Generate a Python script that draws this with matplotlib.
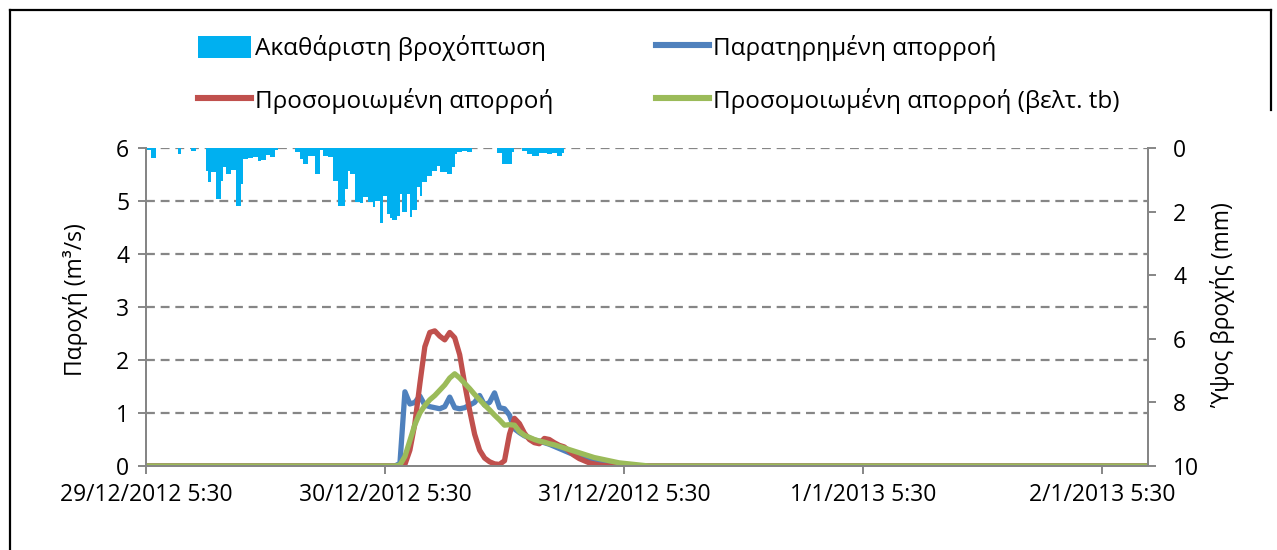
import numpy as np
import matplotlib
matplotlib.use("Agg")
import matplotlib.pyplot as plt
from matplotlib.patches import Patch
from matplotlib.lines import Line2D

plt.rcParams['font.family'] = ['Open Sans', 'DejaVu Sans']

# ---------------- data ----------------
# rainfall (mm) per 15-min step, starting 29/12/2012 5:30
rain_step_h = 0.25
rain_mm = [
    0.06, 0.06, 0.31, 0.31, 0, 0, 0, 0, 0, 0, 0, 0, 0, 0.2, 0, 0, 0, 0, 0.1, 0.1,
    0, 0, 0, 0, 0.72, 1.07, 0.75, 0.75, 1.6, 1.6, 1.04, 0.6, 0.82, 0.82, 0.69, 0.69,
    1.82, 1.82, 1.13, 0.35, 0.35, 0.31, 0.31, 0.28, 0.28, 0.41, 0.38, 0.38, 0.22, 0.22,
    0.28, 0.28, 0.05, 0, 0, 0, 0, 0, 0, 0, 0.13, 0.13, 0.35, 0.5, 0.5, 0.25, 0.25, 0.25,
    0.82, 0.82, 0.06, 0.25, 0.25, 0.28, 0.28, 1.04, 1.04, 1.82, 1.82, 1.82, 1.29, 0.72,
    0.82, 0.82, 1.7, 1.7, 1.73, 1.54, 1.54, 1.7, 1.7, 1.86, 1.67, 1.67, 2.36, 1.51, 1.51,
    2.08, 2.2, 2.26, 2.26, 2.14, 1.45, 2.01, 2.01, 1.45, 2.17, 1.95, 1.95, 1.23, 1.51,
    1.07, 1.07, 0.88, 0.88, 0.72, 0.72, 0.57, 0.75, 0.75, 0.75, 0.82, 0.82, 0.6, 0.19,
    0.13, 0.13, 0.09, 0.09, 0.12, 0.12, 0, 0, 0, 0, 0, 0, 0, 0, 0, 0, 0.16, 0.16, 0.5,
    0.5, 0.5, 0.5, 0.13, 0, 0, 0, 0.1, 0.1, 0.19, 0.19, 0.25, 0.25, 0.25, 0.16, 0.16,
    0.16, 0.19, 0.19, 0.16, 0.16, 0.25, 0.25, 0.16,
]

# discharge (m3/s) per 30-min step, starting 29/12/2012 5:30
flow_step_h = 0.5
n_flow = 202
obs_event = [0, 0.05, 1.40, 1.17, 1.20, 1.32, 1.15, 1.12, 1.10, 1.08, 1.12, 1.30, 1.10,
             1.08, 1.10, 1.15, 1.20, 1.33, 1.15, 1.20, 1.38, 1.10, 1.08, 0.96, 0.70, 0.63,
             0.57, 0.53, 0.49, 0.47, 0.44, 0.41, 0.37, 0.33, 0.29, 0.25, 0.21, 0.18, 0.15,
             0.12, 0.10, 0.08, 0.07, 0.05, 0.04, 0.03, 0.02, 0.01, 0, 0]
sim_event = [0, 0, 0.03, 0.30, 0.80, 1.55, 2.25, 2.52, 2.55, 2.45, 2.38, 2.52, 2.42, 2.10,
             1.55, 1.05, 0.60, 0.30, 0.15, 0.08, 0.04, 0.03, 0.10, 0.60, 0.90, 0.80, 0.62,
             0.50, 0.44, 0.42, 0.52, 0.50, 0.44, 0.39, 0.36, 0.28, 0.20, 0.14, 0.10, 0.06,
             0.04, 0.02, 0.01, 0, 0, 0, 0, 0, 0, 0]
simtb_event = [0, 0.02, 0.18, 0.48, 0.78, 1.00, 1.14, 1.25, 1.33, 1.43, 1.53, 1.66, 1.74,
               1.66, 1.56, 1.46, 1.35, 1.25, 1.15, 1.06, 0.96, 0.87, 0.77, 0.78, 0.77, 0.65,
               0.58, 0.54, 0.50, 0.47, 0.45, 0.42, 0.40, 0.37, 0.34, 0.31, 0.28, 0.25, 0.22,
               0.19, 0.16, 0.14, 0.12, 0.10, 0.08, 0.06, 0.05, 0.04, 0.03, 0.02, 0.01, 0]
event_start_step = 50

x_tick_hours = [0, 24, 48, 72, 96]
x_tick_labels = ["29/12/2012 5:30", "30/12/2012 5:30", "31/12/2012 5:30",
                 "1/1/2013 5:30", "2/1/2013 5:30"]
left_ticks = [0, 1, 2, 3, 4, 5, 6]
right_ticks = [0, 2, 4, 6, 8, 10]

labels = ["Ακαθάριστη βροχόπτωση", "Παρατηρημένη απορροή",
          "Προσομοιωμένη απορροή", "Προσομοιωμένη απορροή (βελτ. tb)"]


def full_series(event):
    s = np.zeros(n_flow)
    s[event_start_step:event_start_step + len(event)] = event
    return s


t_flow = np.arange(n_flow) * flow_step_h
obs = full_series(obs_event)
sim = full_series(sim_event)
simtb = full_series(simtb_event)
t_rain = np.arange(len(rain_mm)) * rain_step_h

# ---------------- figure ----------------
W, H = 1277, 550
fig = plt.figure(figsize=(W / 100, H / 100), dpi=100)
ax = fig.add_axes([146 / W, 1 - 466 / H, (1148 - 146) / W, (466 - 148) / H])
ax2 = ax.twinx()

c_blue = '#4F81BD'
c_red = '#C0504D'
c_green = '#9BBB59'
c_rain = '#00B0F0'
grey = '#868686'
fs = 16.5
fs_leg = 17.5

# grid
for v in left_ticks[1:]:
    ax.axhline(v, color=grey, lw=1.6, ls=(0, (4, 2.6)), zorder=0)

lw = 3.8
ax.plot(t_flow, obs, color=c_blue, lw=lw, solid_joinstyle='round', zorder=3)
ax.plot(t_flow, sim, color=c_red, lw=lw, solid_joinstyle='round', zorder=4)
ax.plot(t_flow, simtb, color=c_green, lw=lw, solid_joinstyle='round', zorder=5)

ax2.bar(t_rain, rain_mm, width=rain_step_h, align='edge', color=c_rain, lw=0)

xmax = (1148 - 146) / 239 * 24
ax.set_xlim(0, xmax)
ax.set_ylim(0, 6)
ax2.set_ylim(10, 0)

ax.set_xticks(x_tick_hours)
ax.set_xticklabels(x_tick_labels, fontsize=fs)
ax.set_yticks(left_ticks)
ax.set_yticklabels([str(v) for v in left_ticks], fontsize=fs)
ax2.set_yticks(right_ticks)
ax2.set_yticklabels([str(v) for v in right_ticks], fontsize=fs)

for a in (ax, ax2):
    a.spines['top'].set_visible(False)
    for side in ('left', 'right', 'bottom'):
        a.spines[side].set_color(grey)
        a.spines[side].set_linewidth(1.4)
    a.tick_params(colors=grey, labelcolor='black', width=1.4, length=6, direction='out')
ax.tick_params(axis='x', pad=6)
ax.tick_params(axis='y', pad=6)
ax2.tick_params(axis='y', pad=12)

fig.text(76 / W, 1 - 300 / H, "Παροχή (m³/s)", rotation=90, ha='center', va='center',
         fontsize=fs)
fig.text(1223 / W, 1 - 305 / H, "Ύψος βροχής (mm)", rotation=90, ha='center',
         va='center', fontsize=fs)

# legend
handles = [Patch(facecolor=c_rain, edgecolor='none'),
           Line2D([], [], color=c_red, lw=lw + 0.6),
           Line2D([], [], color=c_blue, lw=lw + 0.6),
           Line2D([], [], color=c_green, lw=lw + 0.6)]
leg_labels = [labels[0], labels[2], labels[1], labels[3]]
fig.legend(handles, leg_labels, ncol=2, loc='upper left',
           bbox_to_anchor=(198 / W, 1 - 35 / H), frameon=False, fontsize=fs_leg,
           handlelength=2.18, handleheight=1.0, handletextpad=0.18, columnspacing=4.2,
           labelspacing=1.1, borderpad=0, borderaxespad=0)

# outer frame (partial, as in the reference)
fig.add_artist(Line2D([10 / W, 10 / W], [0, 1 - 10 / H], color='black', lw=1.6,
                      transform=fig.transFigure))
fig.add_artist(Line2D([10 / W, 1271 / W], [1 - 10 / H, 1 - 10 / H], color='black', lw=1.6,
                      transform=fig.transFigure))
fig.add_artist(Line2D([1271 / W, 1271 / W], [1 - 10 / H, 1 - 110 / H], color='black',
                      lw=1.6, transform=fig.transFigure))

fig.savefig("out.png", dpi=100)
